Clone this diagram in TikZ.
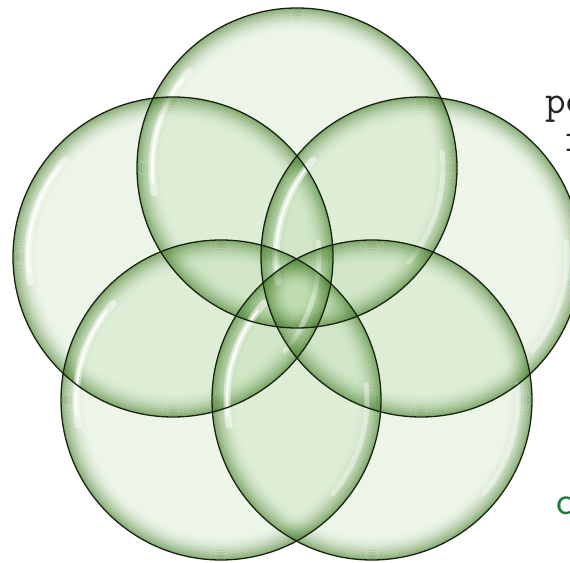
\documentclass[tikz,border=0pt]{standalone}

\definecolor{bubblefill}{RGB}{160,205,140}
\definecolor{bubblerim}{RGB}{58,115,30}
\definecolor{bubbleline}{RGB}{22,34,14}
\definecolor{labelgreen}{RGB}{30,125,60}

\begin{document}
\begin{tikzpicture}[
    x=0.5pt, y=0.5pt,
    bubble/.style={circle, inner sep=0pt, minimum size=160pt, fill=bubblefill, fill opacity=0.2},
    rim/.style={draw=bubblerim, line width=0.8pt},
    gloss/.style={white, line cap=round},
    outline/.style={draw=bubbleline, line width=0.65pt},
    cut/.style={anchor=base west, inner sep=0pt, font=\fontsize{20}{24}\selectfont}
]
    \useasboundingbox (0,0) rectangle (570,563);

    \node[bubble] (top) at (297,395) {};
    \node[bubble] (left) at (173,306) {};
    \node[bubble] (right) at (421,306) {};
    \node[bubble] (botleft) at (221,163) {};
    \node[bubble] (botright) at (372,163) {};

    % dark inner rim, fading inwards
    \foreach \n in {top,left,right,botleft,botright}{
        \foreach \k [evaluate=\k as \op using {0.5*(1-\k/16)^2},
                     evaluate=\k as \rr using {159-\k*1.5}] in {0,...,15}
            \draw[rim, opacity=\op] (\n.center) circle (\rr);
        \draw[gloss, line width=3.5pt, opacity=0.5] (\n.center) ++(138:145) arc (138:190:145);
        \draw[gloss, line width=1.2pt, opacity=0.9] (\n.center) ++(142:145) arc (142:186:145);
        \draw[gloss, line width=2.5pt, opacity=0.4] (\n.center) ++(-40:146) arc (-40:6:146);
    }
    \foreach \n in {top,left,right,botleft,botright}
        \draw[outline] (\n.center) circle (160);

    \node[cut, font=\fontsize{20}{24}\selectfont\ttfamily, text=black!85] (po) at (545,449) {po};
    \node[cut, font=\fontsize{20}{24}\selectfont\ttfamily, text=black!85] (r) at (565,411) {r};
    \node[cut, font=\fontsize{20}{24}\selectfont\sffamily, text=labelgreen] (c) at (556,48) {c};

\end{tikzpicture}
\end{document}
